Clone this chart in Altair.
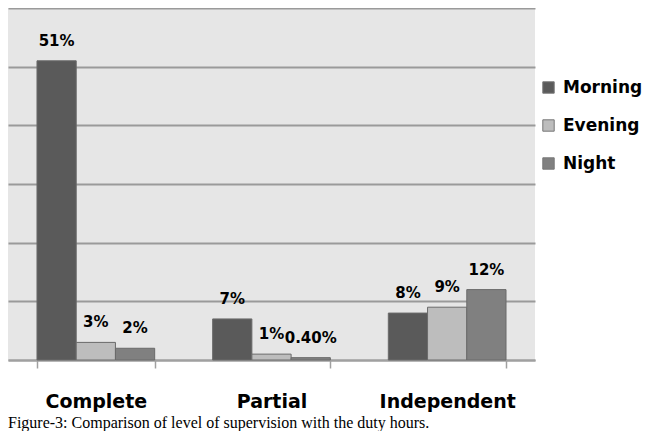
import altair as alt
import pandas as pd

categories = ["Complete", "Partial", "Independent"]
series = ["Morning", "Evening", "Night"]
morning = [51, 7, 8]
evening = [3, 1, 9]
night = [2, 0.4, 12]
labels_morning = ["51%", "7%", "8%"]
labels_evening = ["3%", "1%", "9%"]
labels_night = ["2%", "0.40%", "12%"]
colors = ["#5a5a5a", "#bdbdbd", "#808080"]
caption = "Figure-3: Comparison of level of supervision with the duty hours."

rows = []
for s, vals, labs in zip(series, [morning, evening, night], [labels_morning, labels_evening, labels_night]):
    for c, v, l in zip(categories, vals, labs):
        rows.append({"cat": c, "series": s, "value": v, "label": l})
df = pd.DataFrame(rows)

x = alt.X("cat:N", sort=categories, title=None,
          scale=alt.Scale(paddingInner=0.33, paddingOuter=0.165),
          axis=alt.Axis(tickBand="extent", tickSize=8, tickColor="#a0a0a0", tickWidth=1.5,
                        domainColor="#a0a0a0", domainWidth=2, labelAngle=0,
                        labelFont="DejaVu Sans", labelFontWeight="bold", labelFontSize=19,
                        labelColor="#000", labelPadding=24, grid=False))
xo = alt.XOffset("series:N", sort=series, scale=alt.Scale(paddingInner=0, paddingOuter=0))
y = alt.Y("value:Q", title=None, scale=alt.Scale(domain=[0, 60], nice=False),
          axis=alt.Axis(values=[0, 10, 20, 30, 40, 50, 60], labels=False, ticks=False, domain=False,
                        grid=True, gridColor="#9a9a9a", gridWidth=2))

bars = alt.Chart(df).mark_bar(stroke="#6a6a6a", strokeWidth=1).encode(
    x=x, xOffset=xo, y=y,
    color=alt.Color("series:N", sort=series, title=None,
                    scale=alt.Scale(domain=series, range=colors),
                    legend=alt.Legend(orient="none", legendX=532, legendY=71, symbolType="square",
                                      symbolSize=130, symbolStrokeColor="#777", symbolStrokeWidth=1,
                                      labelFont="DejaVu Sans", labelFontWeight="bold", labelFontSize=17,
                                      labelColor="#000", rowPadding=20, labelOffset=6)),
)

text = alt.Chart(df).mark_text(dy=-20, font="DejaVu Sans", fontWeight="bold", fontSize=15,
                               color="#000").encode(
    x=alt.X("cat:N", sort=categories), xOffset=alt.XOffset("series:N", sort=series),
    y=alt.Y("value:Q"), text="label:N")

chart = (bars + text).properties(
    width=527, height=352,
    view=alt.ViewBackground(fill="#e6e6e6", stroke=None),
    title=alt.TitleParams(caption, orient="bottom", anchor="start", font="Liberation Serif",
                          fontSize=16, fontWeight="normal", color="#000", offset=4),
    padding={"left": 0, "top": 0, "right": 107, "bottom": 71},
    autosize=alt.AutoSizeParams(type="none"),
).configure_view(fill="#e6e6e6", stroke=None).configure(background="white")

chart.save("out.html", embed_options={"renderer": "svg", "actions": False})
